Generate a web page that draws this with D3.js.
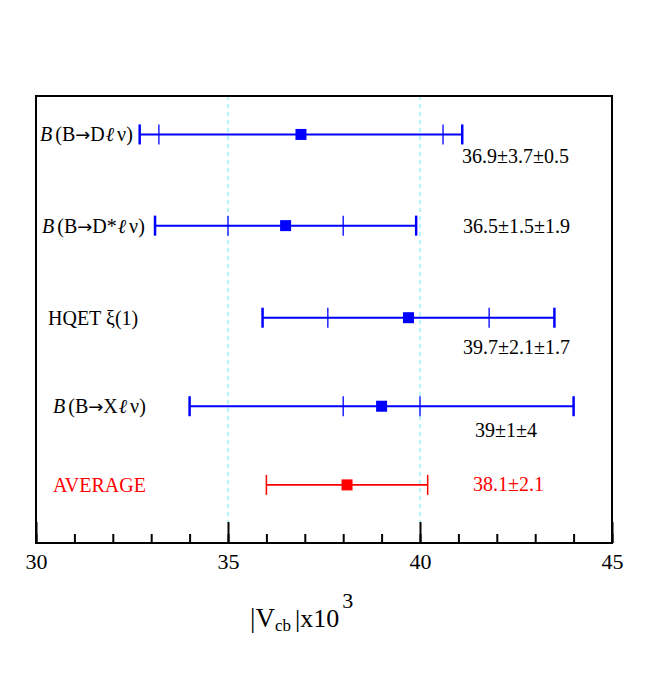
<!DOCTYPE html>
<html>
<head>
<meta charset="utf-8">
<script src="https://cdn.jsdelivr.net/npm/d3@7"></script>
<style>
  body { margin: 0; background: #fff; }
  svg { display: block; font-family: "Liberation Serif", "Times New Roman", serif; }
  .tick text { font-family: "Liberation Serif", serif; }
</style>
</head>
<body>
<svg id="chart" width="646" height="693"></svg>
<script>
// measurements of |Vcb| (x10^3)
const labels = ["D", "D*", "HQET ξ(1)", "X", "AVERAGE"]
const isBranching = [true, true, false, true, false]
const centralValues = [36.9, 36.5, 39.7, 39.0, 38.1]
const statErrors = [3.7, 1.5, 2.1, 1.0, 2.1]
const systErrors = [0.5, 1.9, 1.7, 4.0, 0]
const valueLabels = ["36.9±3.7±0.5", "36.5±1.5±1.9", "39.7±2.1±1.7", "39±1±4", "38.1±2.1"]
const rowPos = [4.57, 3.55, 2.52, 1.53, 0.65]
const majorTicks = [30, 35, 40, 45]
const minorTicks = d3.range(30, 46, 1)
const refLines = [35, 40]

// layout (pixels)
const frame = { left: 36, right: 612, top: 96, bottom: 543 }
const labelX = [40, 42, 48, 53, 53]
const valueX = [462, 463, 463, 475, 473]
const valueDy = [29, 7, 36, 31, 6]

const svg = d3.select("#chart")

const x = d3.scaleLinear().domain([30, 45]).range([frame.left, frame.right])
const y = d3.scaleLinear().domain([0, 5]).range([frame.bottom, frame.top])

const rows = labels.map((d, i) => ({
  label: d,
  br: isBranching[i],
  c: centralValues[i],
  stat: statErrors[i],
  syst: systErrors[i],
  text: valueLabels[i],
  pos: rowPos[i],
  lx: labelX[i],
  vx: valueX[i],
  vdy: valueDy[i],
  avg: d === "AVERAGE"
}))

// dashed reference lines
svg.append("g")
  .selectAll("line")
  .data(refLines)
  .enter()
  .append("line")
  .attr("x1", d => x(d))
  .attr("x2", d => x(d))
  .attr("y1", frame.top)
  .attr("y2", frame.bottom - 21)
  .attr("stroke", "#8cf0f0")
  .attr("stroke-width", 1.3)
  .attr("stroke-dasharray", "4,4")

// axis ticks (inward)
const minorAxis = svg.append("g")
  .attr("transform", `translate(0,${frame.bottom})`)
  .call(d3.axisBottom(x).tickValues(minorTicks).tickSize(-9).tickFormat(""))
minorAxis.select(".domain").remove()
minorAxis.selectAll(".tick line").attr("stroke-width", 2)

const majorAxis = svg.append("g")
  .attr("transform", `translate(0,${frame.bottom})`)
  .attr("font-family", null)
  .call(d3.axisBottom(x).tickValues(majorTicks).tickSize(-21).tickPadding(10).tickFormat(d3.format("d")))
majorAxis.attr("font-family", "Liberation Serif").attr("font-size", 22)
majorAxis.select(".domain").remove()
majorAxis.selectAll(".tick line").attr("stroke-width", 2)
majorAxis.selectAll(".tick text")
  .style("font-family", "'Liberation Serif', serif")
  .style("font-size", "22px")
  .attr("fill", "#000")

// frame
svg.append("rect")
  .attr("x", frame.left)
  .attr("y", frame.top)
  .attr("width", frame.right - frame.left)
  .attr("height", frame.bottom - frame.top)
  .attr("fill", "none")
  .attr("stroke", "#000")
  .attr("stroke-width", 2)

// error bars
const bars = svg.append("g")
  .selectAll("g")
  .data(rows)
  .enter()
  .append("g")
  .attr("transform", d => `translate(0,${y(d.pos)})`)

const color = d => d.avg ? "#ff0000" : "#0000ff"

bars.append("line")
  .attr("x1", d => x(d.c - d.stat - d.syst))
  .attr("x2", d => x(d.c + d.stat + d.syst))
  .attr("stroke", color)
  .attr("stroke-width", d => d.avg ? 1.6 : 2)

// outer caps
bars.selectAll(".cap")
  .data(d => [d.c - d.stat - d.syst, d.c + d.stat + d.syst].map(v => ({ v, avg: d.avg })))
  .enter()
  .append("line")
  .attr("class", "cap")
  .attr("x1", d => x(d.v))
  .attr("x2", d => x(d.v))
  .attr("y1", -10)
  .attr("y2", 10)
  .attr("stroke", color)
  .attr("stroke-width", d => d.avg ? 1.5 : 2.5)

// inner (statistical) ticks
bars.filter(d => d.syst > 0)
  .selectAll(".stat")
  .data(d => [d.c - d.stat, d.c + d.stat].map(v => ({ v, avg: d.avg })))
  .enter()
  .append("line")
  .attr("class", "stat")
  .attr("x1", d => x(d.v))
  .attr("x2", d => x(d.v))
  .attr("y1", -10)
  .attr("y2", 10)
  .attr("stroke", color)
  .attr("stroke-width", 1.3)

bars.append("rect")
  .attr("x", d => x(d.c) - 5.5)
  .attr("y", -5.5)
  .attr("width", 11)
  .attr("height", 11)
  .attr("fill", color)

// left labels
const lbl = bars.append("text")
  .attr("x", d => d.lx)
  .attr("y", 7)
  .attr("font-size", 20)
  .attr("fill", d => d.avg ? "#ff0000" : "#000")

const br = lbl.filter(d => d.br)
br.append("tspan").attr("font-style", "italic").text("B")
br.append("tspan").attr("dx", 3).text("(B")
br.append("tspan").attr("font-family", "DejaVu Sans").attr("font-size", 18).text("→")
br.append("tspan").text(d => d.label)
br.append("tspan").attr("font-style", "italic").attr("dx", 1).text("ℓ")
br.append("tspan").attr("dx", 3).text("ν)")
lbl.filter(d => !d.br)
  .append("tspan")
  .text(d => d.label)

// value labels
bars.append("text")
  .attr("x", d => d.vx)
  .attr("y", d => d.vdy)
  .attr("font-size", 20)
  .attr("fill", d => d.avg ? "#ff0000" : "#000")
  .text(d => d.text)

// axis title
const title = svg.append("text")
  .attr("x", 250)
  .attr("y", 627)
  .attr("fill", "#000")
title.append("tspan").attr("font-size", 27).text("|V")
title.append("tspan").attr("font-size", 17).attr("dy", 4).text("cb")
title.append("tspan").attr("font-size", 26).attr("dy", -4).attr("dx", 4).text("|x10")
title.append("tspan").attr("font-size", 22).attr("dy", -19).attr("dx", 3).text("3")
</script>
</body>
</html>
